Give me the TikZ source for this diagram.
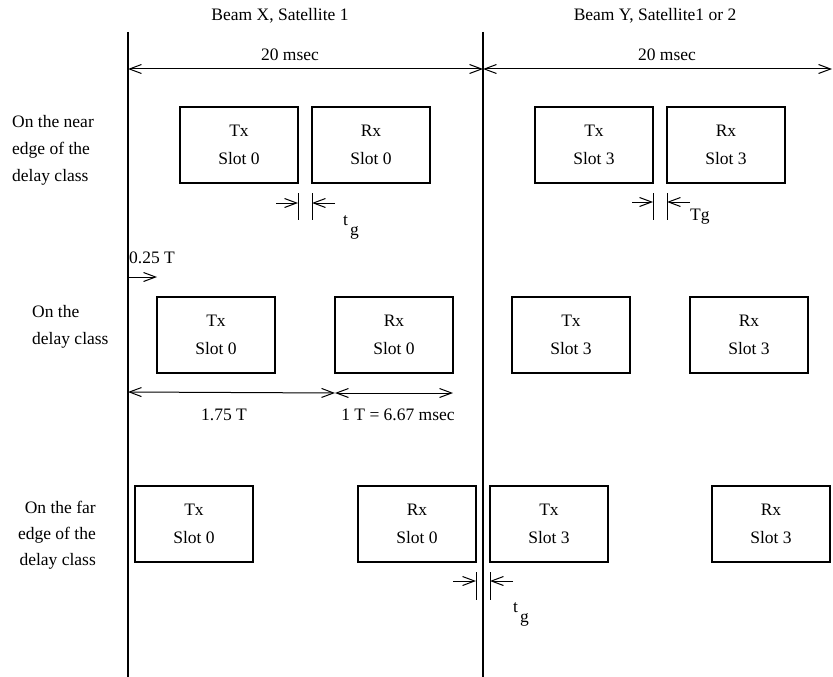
\documentclass[tikz,border=0pt]{standalone}
\usepackage{fontspec}
\setmainfont{Liberation Serif}
\usetikzlibrary{arrows.meta,calc}

\begin{document}
\begin{tikzpicture}[x=1pt,y=-1pt,
  font=\fontsize{17.5}{27}\selectfont,
  >={Straight Barb[length=12pt,width=9pt]},
  slotbox/.style={draw, line width=1.3pt, minimum width=118pt, minimum height=76pt,
    inner sep=0pt, outer sep=0pt, align=center, anchor=north west,
    font=\fontsize{17.5}{28}\selectfont},
  frameline/.style={line width=1.8pt},
  dim/.style={line width=1pt, <->},
  ptr/.style={line width=1pt, ->},
  tick/.style={line width=1pt},
  lbl/.style={inner sep=0pt, anchor=base},
  rowlbl/.style={inner sep=0pt, anchor=base west}]

  \useasboundingbox (0,0) rectangle (833,677);

  % frame boundaries
  \coordinate (aTop) at (128,32);
  \coordinate (aBot) at (128,677);
  \coordinate (bTop) at (483,32);
  \coordinate (bBot) at (483,677);
  \draw[frameline] (aTop) -- (aBot);
  \draw[frameline] (bTop) -- (bBot);

  % headings and frame durations
  \node[lbl] (beamX) at (280,21) {Beam X, Satellite 1};
  \node[lbl] (beamY) at (655,21) {Beam Y, Satellite1 or 2};
  \coordinate (fa) at (128,69);
  \coordinate (fb) at (483,69);
  \coordinate (fc) at (832,69);
  \draw[dim] (fa) -- (fb);
  \draw[dim] (fb) -- (fc);
  \node[lbl] (durA) at (290,60) {20 msec};
  \node[lbl] (durB) at (667,60) {20 msec};

  % row labels
  \node[rowlbl] (nearA) at (12,127) {On the near};
  \node[rowlbl] (nearB) at (12,154) {edge of the};
  \node[rowlbl] (nearC) at (12,181) {delay class};
  \node[rowlbl] (midA) at (32,317) {On the};
  \node[rowlbl] (midB) at (32,344) {delay class};
  \node[inner sep=0pt, anchor=base east] (farA) at (96,513) {On the far};
  \node[inner sep=0pt, anchor=base east] (farB) at (96,539) {edge of the};
  \node[inner sep=0pt, anchor=base east] (farC) at (96,565) {delay class};

  % near edge of the delay class
  \node[slotbox] (nTx0) at (180,107) {Tx\\Slot 0};
  \node[slotbox] (nRx0) at (312,107) {Rx\\Slot 0};
  \node[slotbox] (nTx3) at (535,107) {Tx\\Slot 3};
  \node[slotbox] (nRx3) at (667,107) {Rx\\Slot 3};

  % middle of the delay class
  \node[slotbox] (dTx0) at (157,297) {Tx\\Slot 0};
  \node[slotbox] (dRx0) at (335,297) {Rx\\Slot 0};
  \node[slotbox] (dTx3) at (512,297) {Tx\\Slot 3};
  \node[slotbox] (dRx3) at (690,297) {Rx\\Slot 3};

  % far edge of the delay class
  \node[slotbox] (fTx0) at (135,486) {Tx\\Slot 0};
  \node[slotbox] (fRx0) at (358,486) {Rx\\Slot 0};
  \node[slotbox] (fTx3) at (490,486) {Tx\\Slot 3};
  \node[slotbox] (fRx3) at (712,486) {Rx\\Slot 3};

  % guard time between Tx and Rx, slot 0
  \draw[tick] ($(nTx0.south east)+(0,10)$) -- ($(nTx0.south east)+(0,37)$);
  \draw[tick] ($(nRx0.south west)+(0,10)$) -- ($(nRx0.south west)+(0,37)$);
  \coordinate (g1a) at ($(nTx0.south east)+(-22,20)$);
  \coordinate (g1b) at ($(nTx0.south east)+(0,20)$);
  \coordinate (g1c) at ($(nRx0.south west)+(23,20)$);
  \coordinate (g1d) at ($(nRx0.south west)+(0,20)$);
  \draw[ptr] (g1a) -- (g1b);
  \draw[ptr] (g1c) -- (g1d);
  \node[rowlbl] (tg1) at ($(nRx0.south west)+(31,42)$) {t\kern2pt\raisebox{-10pt}{g}};

  % guard time between Tx and Rx, slot 3
  \draw[tick] ($(nTx3.south east)+(0,10)$) -- ($(nTx3.south east)+(0,37)$);
  \draw[tick] ($(nRx3.south west)+(0,10)$) -- ($(nRx3.south west)+(0,37)$);
  \coordinate (g2a) at ($(nTx3.south east)+(-21,19)$);
  \coordinate (g2b) at ($(nTx3.south east)+(0,19)$);
  \coordinate (g2c) at ($(nRx3.south west)+(23,19)$);
  \coordinate (g2d) at ($(nRx3.south west)+(0,19)$);
  \draw[ptr] (g2a) -- (g2b);
  \draw[ptr] (g2c) -- (g2d);
  \node[rowlbl] (tg2) at ($(nRx3.south west)+(23,37)$) {Tg};

  % offset and spacing within the delay class
  \coordinate (q0) at (128,277);
  \coordinate (q1) at ($(dTx0.north west)+(0,-20)$);
  \draw[ptr] (q0) -- (q1);
  \node[rowlbl] (quarter) at (129,263) {0.25 T};
  \coordinate (m0) at (128,392);
  \coordinate (m1) at ($(dRx0.south west)+(0,20)$);
  \coordinate (m2) at ($(dRx0.south east)+(0,20)$);
  \draw[dim] (m0) -- (m1);
  \draw[dim] (m1) -- (m2);
  \node[lbl] (span) at (224,420) {1.75 T};
  \node[lbl] (unit) at (398,420) {1 T = 6.67 msec};

  % guard time across the frame boundary
  \draw[tick] ($(fRx0.south east)+(0,10)$) -- ($(fRx0.south east)+(0,38)$);
  \draw[tick] ($(fTx3.south west)+(0,10)$) -- ($(fTx3.south west)+(0,38)$);
  \coordinate (g3a) at ($(fRx0.south east)+(-23,19)$);
  \coordinate (g3b) at ($(fRx0.south east)+(0,19)$);
  \coordinate (g3c) at ($(fTx3.south west)+(23,19)$);
  \coordinate (g3d) at ($(fTx3.south west)+(0,19)$);
  \draw[ptr] (g3a) -- (g3b);
  \draw[ptr] (g3c) -- (g3d);
  \node[rowlbl] (tg3) at ($(fTx3.south west)+(23,50)$) {t\kern2pt\raisebox{-10pt}{g}};
\end{tikzpicture}
\end{document}
